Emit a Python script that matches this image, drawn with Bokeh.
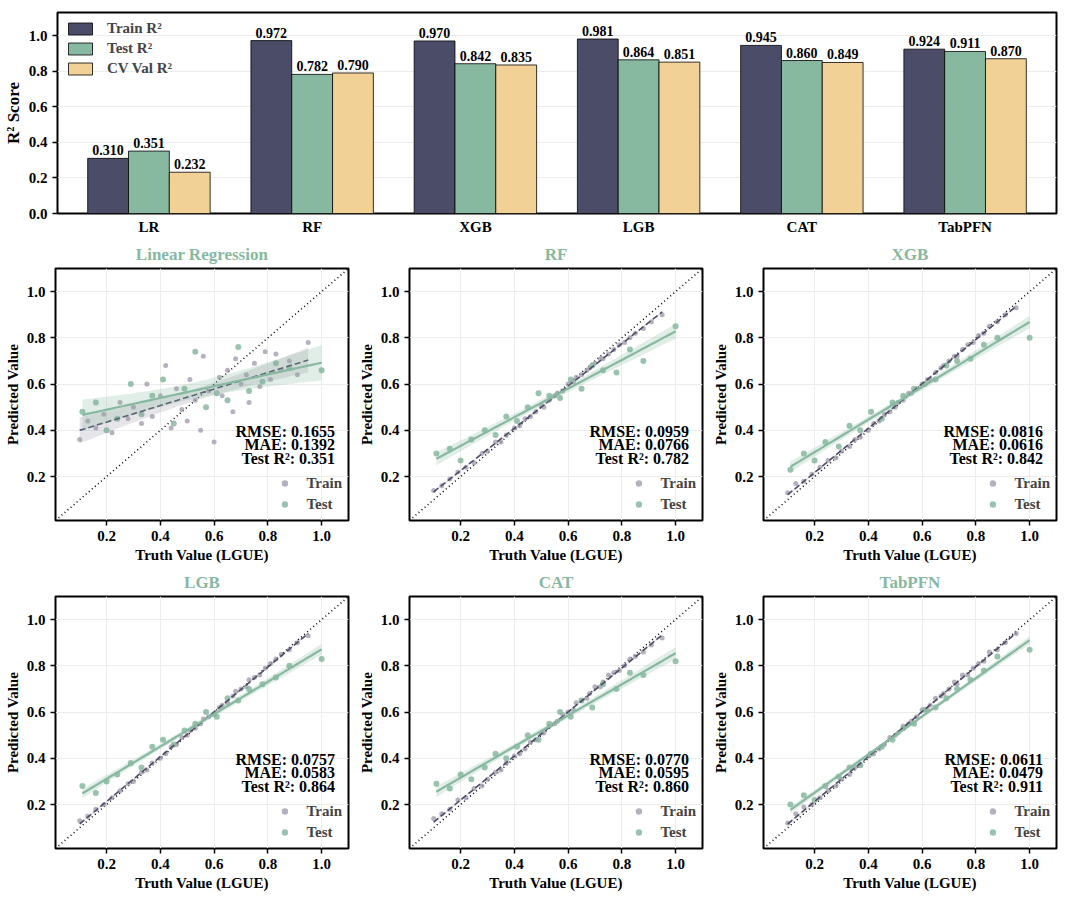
import numpy as np
from bokeh.plotting import figure
from bokeh.layouts import column, row
from bokeh.models import ColumnDataSource, Legend, LegendItem, Label, FactorRange, FixedTicker, Range1d, NumeralTickFormatter
from bokeh.transform import dodge
from bokeh.embed import file_html
from bokeh.resources import INLINE

FONT = "Liberation Serif"
C_TRAIN = "#4b4d68"
C_TEST = "#87b8a0"
C_CV = "#f2d197"
C_TRAIN_PT = "#9d97a8"

models = ["LR", "RF", "XGB", "LGB", "CAT", "TabPFN"]
train_r2 = [0.310, 0.972, 0.970, 0.981, 0.945, 0.924]
test_r2 = [0.351, 0.782, 0.842, 0.864, 0.860, 0.911]
cv_r2 = [0.232, 0.790, 0.835, 0.851, 0.849, 0.870]

panel_titles = ["Linear Regression", "RF", "XGB", "LGB", "CAT", "TabPFN"]
rmse = [0.1655, 0.0959, 0.0816, 0.0757, 0.0770, 0.0611]
mae = [0.1392, 0.0766, 0.0616, 0.0583, 0.0595, 0.0479]

truth_train = [0.10,0.13,0.16,0.19,0.22,0.25,0.28,0.30,0.33,0.35,0.37,0.40,0.42,0.44,0.46,0.48,0.50,0.51,0.53,0.55,
               0.56,0.58,0.60,0.62,0.63,0.65,0.67,0.68,0.70,0.72,0.73,0.75,0.77,0.79,0.81,0.83,0.85,0.88,0.91,0.95]
truth_test = [0.11,0.16,0.20,0.24,0.29,0.33,0.37,0.41,0.45,0.49,0.53,0.57,0.61,0.65,0.69,0.73,0.78,0.83,0.88,1.00]

pred_train = {
 "LR": [0.36,0.44,0.41,0.47,0.39,0.52,0.45,0.50,0.43,0.60,0.46,0.55,0.68,0.41,0.58,0.49,0.44,0.62,0.53,0.40,
        0.72,0.57,0.35,0.63,0.55,0.66,0.48,0.71,0.60,0.64,0.52,0.69,0.59,0.74,0.62,0.73,0.66,0.70,0.64,0.78],
 "RF": [0.14,0.16,0.19,0.22,0.24,0.26,0.30,0.31,0.35,0.35,0.38,0.41,0.42,0.45,0.46,0.48,0.51,0.50,0.53,0.55,
        0.56,0.57,0.60,0.61,0.63,0.64,0.66,0.67,0.69,0.71,0.71,0.73,0.75,0.77,0.78,0.80,0.82,0.84,0.87,0.90],
 "XGB": [0.13,0.17,0.18,0.21,0.24,0.27,0.28,0.31,0.33,0.36,0.37,0.40,0.43,0.44,0.47,0.48,0.50,0.52,0.53,0.56,
         0.56,0.58,0.60,0.62,0.62,0.65,0.67,0.68,0.70,0.72,0.72,0.75,0.77,0.78,0.81,0.82,0.85,0.87,0.90,0.93],
 "LGB": [0.13,0.15,0.18,0.20,0.23,0.26,0.29,0.30,0.34,0.35,0.38,0.40,0.42,0.45,0.46,0.49,0.50,0.52,0.53,0.55,
         0.57,0.58,0.59,0.62,0.63,0.64,0.67,0.69,0.70,0.71,0.74,0.75,0.76,0.79,0.81,0.83,0.85,0.87,0.90,0.93],
 "CAT": [0.14,0.16,0.18,0.22,0.23,0.27,0.28,0.31,0.34,0.35,0.38,0.41,0.42,0.44,0.47,0.48,0.51,0.51,0.54,0.55,
         0.56,0.59,0.60,0.61,0.64,0.65,0.66,0.68,0.71,0.71,0.73,0.76,0.77,0.78,0.80,0.83,0.84,0.86,0.89,0.92],
 "TabPFN": [0.12,0.16,0.19,0.20,0.23,0.26,0.28,0.31,0.33,0.36,0.37,0.41,0.42,0.44,0.46,0.49,0.50,0.51,0.54,0.55,
            0.56,0.58,0.61,0.61,0.63,0.66,0.67,0.68,0.70,0.73,0.72,0.76,0.76,0.79,0.81,0.82,0.86,0.87,0.90,0.94],
}
pred_test = {
 "LR": [0.48,0.52,0.40,0.45,0.60,0.47,0.55,0.62,0.43,0.58,0.74,0.50,0.56,0.53,0.76,0.57,0.61,0.69,0.67,0.66],
 "RF": [0.30,0.32,0.27,0.36,0.40,0.38,0.46,0.44,0.50,0.56,0.55,0.54,0.62,0.58,0.68,0.66,0.65,0.75,0.70,0.85],
 "XGB": [0.23,0.30,0.27,0.35,0.33,0.42,0.40,0.48,0.45,0.52,0.55,0.58,0.60,0.62,0.68,0.70,0.71,0.77,0.80,0.80],
 "LGB": [0.28,0.25,0.30,0.33,0.38,0.36,0.45,0.48,0.46,0.52,0.55,0.60,0.58,0.66,0.65,0.70,0.72,0.75,0.80,0.83],
 "CAT": [0.29,0.27,0.33,0.31,0.36,0.42,0.40,0.45,0.50,0.48,0.55,0.60,0.58,0.65,0.62,0.72,0.70,0.77,0.76,0.82],
 "TabPFN": [0.20,0.24,0.22,0.28,0.32,0.36,0.37,0.42,0.45,0.48,0.53,0.55,0.61,0.62,0.66,0.70,0.74,0.78,0.84,0.87],
}

def style_axes(p, fs="15px"):
    for ax in (p.xaxis + p.yaxis):
        ax.major_label_text_font = FONT
        ax.major_label_text_font_style = "bold"
        ax.major_label_text_font_size = fs
        ax.major_label_text_color = "black"
        ax.axis_label_text_font = FONT
        ax.axis_label_text_font_style = "bold"
        ax.axis_label_text_font_size = "15px"
        ax.axis_label_text_color = "black"
        ax.axis_line_color = None
        ax.major_tick_in = 0
        ax.major_tick_out = 5
        ax.major_tick_line_width = 1.5
        ax.minor_tick_line_color = None
        ax.axis_label_standoff = 3
    p.outline_line_color = "black"
    p.outline_line_width = 2
    p.outline_line_alpha = 1
    p.xgrid.grid_line_color = "#ececec"
    p.ygrid.grid_line_color = "#ececec"

# ---------- top bar chart ----------
src = ColumnDataSource(dict(m=models, tr=train_r2, te=test_r2, cv=cv_r2,
                            trl=[f"{v:.3f}" for v in train_r2],
                            tel=[f"{v:.3f}" for v in test_r2],
                            cvl=[f"{v:.3f}" for v in cv_r2]))
top = figure(x_range=FactorRange(*models), y_range=Range1d(0, 1.13), width=1064, height=237,
             output_backend="svg", toolbar_location=None, min_border_left=47, min_border_right=8,
             min_border_top=12)
w = 0.25
r1 = top.vbar(x=dodge("m", -w, range=top.x_range), top="tr", width=w, source=src,
              fill_color=C_TRAIN, line_color="black", line_width=0.8)
r2 = top.vbar(x=dodge("m", 0, range=top.x_range), top="te", width=w, source=src,
              fill_color=C_TEST, line_color="black", line_width=0.8)
r3 = top.vbar(x=dodge("m", w, range=top.x_range), top="cv", width=w, source=src,
              fill_color=C_CV, line_color="black", line_width=0.8)
for off, col, lab in [(-w, "tr", "trl"), (0, "te", "tel"), (w, "cv", "cvl")]:
    top.text(x=dodge("m", off, range=top.x_range), y=col, text=lab, source=src,
             text_align="center", text_baseline="bottom", y_offset=-3,
             text_font=FONT, text_font_style="bold", text_font_size="14px", text_color="black")
top.yaxis.ticker = FixedTicker(ticks=[0, 0.2, 0.4, 0.6, 0.8, 1.0])
top.yaxis.formatter = NumeralTickFormatter(format="0.0")
top.yaxis.axis_label = "R² Score"
style_axes(top)
top.yaxis.axis_label_text_font_size = "17px"
top.xgrid.grid_line_color = None
top.xaxis.major_tick_out = 0
top.x_range.range_padding = 0.02
lg = Legend(items=[LegendItem(label="Train R²", renderers=[r1]),
                   LegendItem(label="Test R²", renderers=[r2]),
                   LegendItem(label="CV Val R²", renderers=[r3])],
            location="top_left", border_line_color=None, background_fill_alpha=0,
            label_text_font=FONT, label_text_font_style="bold", label_text_font_size="15px",
            glyph_width=30, glyph_height=15, spacing=3, padding=4, margin=8, label_height=15,
            label_standoff=12)
top.add_layout(lg)

# ---------- scatter panels ----------
def fit_band(x, y):
    x = np.array(x); y = np.array(y)
    b, a = np.polyfit(x, y, 1)
    xs = np.linspace(x.min(), x.max(), 50)
    yh = a + b * xs
    res = y - (a + b * x)
    s = np.sqrt(np.sum(res ** 2) / (len(x) - 2))
    se = s * np.sqrt(1 / len(x) + (xs - x.mean()) ** 2 / np.sum((x - x.mean()) ** 2))
    return xs, yh, yh - 1.96 * se, yh + 1.96 * se

panels = []
for i, m in enumerate(models):
    p = figure(width=354, height=328, x_range=Range1d(0.01, 1.1), y_range=Range1d(0.01, 1.1),
               output_backend="svg", toolbar_location=None, title=panel_titles[i],
               min_border_left=55, min_border_right=6, min_border_top=4)
    p.title.align = "center"
    p.title.text_color = C_TEST
    p.title.text_font = FONT
    p.title.text_font_style = "bold"
    p.title.text_font_size = "17px"
    p.line([0.01, 1.1], [0.01, 1.1], line_color="black", line_dash="1 3", line_width=1.5)
    rt = p.scatter(truth_train, pred_train[m], size=5, color=C_TRAIN_PT, alpha=0.75, line_color=None)
    rs = p.scatter(truth_test, pred_test[m], size=6, color=C_TEST, alpha=0.85, line_color=None)
    xs, yh, lo, hi = fit_band(truth_train, pred_train[m])
    p.varea(x=xs, y1=lo, y2=hi, fill_color=C_TRAIN_PT, fill_alpha=0.25)
    p.line(xs, yh, line_color=C_TRAIN, line_dash="6 3", line_width=1.6)
    xs, yh, lo, hi = fit_band(truth_test, pred_test[m])
    p.varea(x=xs, y1=lo, y2=hi, fill_color=C_TEST, fill_alpha=0.25)
    p.line(xs, yh, line_color=C_TEST, line_width=2.2)
    for k, t in enumerate([f"RMSE: {rmse[i]:.4f}", f"MAE: {mae[i]:.4f}", f"Test R²: {test_r2[i]:.3f}"]):
        p.add_layout(Label(x=1.05, y=0.36 - 0.06 * k, text=t, text_align="right",
                           text_font=FONT, text_font_style="bold", text_font_size="16px",
                           text_color="black"))
    lg = Legend(items=[LegendItem(label="Train", renderers=[rt]), LegendItem(label="Test", renderers=[rs])],
                location="bottom_right", border_line_color=None, background_fill_alpha=0,
                label_text_font=FONT, label_text_font_style="bold", label_text_font_size="15px",
                glyph_width=16, spacing=1, padding=2, margin=6, label_standoff=14)
    p.add_layout(lg)
    p.xaxis.ticker = FixedTicker(ticks=[0.2, 0.4, 0.6, 0.8, 1.0])
    p.yaxis.ticker = FixedTicker(ticks=[0.2, 0.4, 0.6, 0.8, 1.0])
    p.xaxis.formatter = NumeralTickFormatter(format="0.0")
    p.yaxis.formatter = NumeralTickFormatter(format="0.0")
    p.xaxis.axis_label = "Truth Value (LGUE)"
    p.yaxis.axis_label = "Predicted Value"
    style_axes(p)
    panels.append(p)

layout = column(top, row(*panels[:3]), row(*panels[3:]))
open("out.html", "w").write(file_html(layout, INLINE))
